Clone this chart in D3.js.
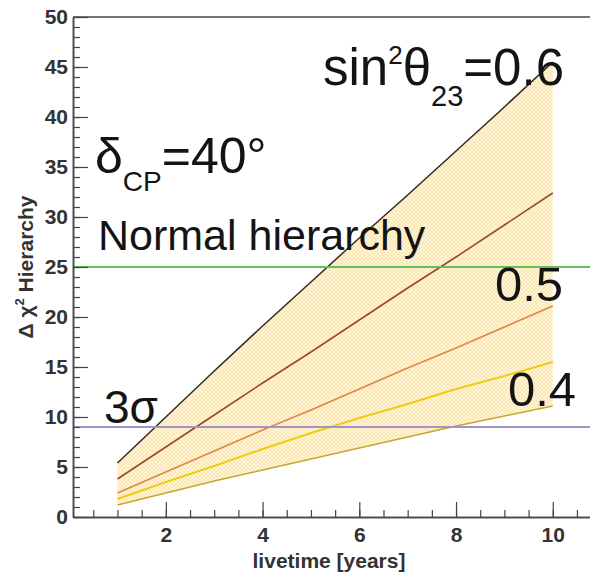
<!DOCTYPE html>
<html>
<head>
<meta charset="utf-8">
<script src="https://cdn.jsdelivr.net/npm/d3@7"></script>
<style>
  body { margin: 0; background: #fff; }
  text { font-family: "Liberation Sans", Arial, sans-serif; }
</style>
</head>
<body>
<div id="chart"></div>
<script>
// livetime in years and Delta chi^2 for each curve
const years = [1, 2, 3, 4, 5, 6, 7, 8, 9, 10];
const chi2Top = [5.4, 10.0, 14.6, 19.1, 23.5, 27.9, 32.2, 36.6, 41.0, 45.5];
const chi2Second = [3.8, 7.0, 10.2, 13.4, 16.5, 19.7, 22.9, 26.0, 29.2, 32.4];
const chi2Third = [2.4, 4.5, 6.6, 8.7, 10.7, 12.8, 14.9, 16.9, 19.0, 21.1];
const chi2Fourth = [1.8, 3.5, 5.1, 6.8, 8.4, 9.9, 11.3, 12.8, 14.1, 15.5];
const chi2Bottom = [1.2, 2.4, 3.6, 4.7, 5.8, 6.9, 8.0, 9.1, 10.1, 11.1];
const curveColors = ["#33291f", "#964a22", "#d98a45", "#f0cc14", "#c8a630"];

const xMajorTicks = [2, 4, 6, 8, 10];
const yMajorTicks = [0, 5, 10, 15, 20, 25, 30, 35, 40, 45, 50];
const nhLevel = 25;      // green line
const sigma3Level = 9;   // purple line

const width = 590, height = 573;
const margin = {top: 17, right: 0, bottom: 56, left: 73};

const svg = d3.select("#chart").append("svg")
    .attr("width", width)
    .attr("height", height);

const x = d3.scaleLinear()
    .domain([0.08, 10.77])
    .range([margin.left, width - margin.right]);
const y = d3.scaleLinear()
    .domain([0, 50])
    .range([height - margin.bottom, margin.top]);

// cross hatch pattern for the band
const defs = svg.append("defs");
const pat = defs.append("pattern")
    .attr("id", "hatch")
    .attr("patternUnits", "userSpaceOnUse")
    .attr("width", 4).attr("height", 4);
pat.append("rect").attr("width", 4).attr("height", 4).attr("fill", "#fff5d6");
pat.append("path").attr("d", "M0,0 L4,4 M4,0 L0,4")
    .attr("stroke", "#f6d690").attr("stroke-width", 0.6).attr("opacity", 0.8);

// band between highest and lowest curve
const bandData = years.map((d, i) => ({t: d, lo: chi2Bottom[i], hi: chi2Top[i]}));
svg.append("path")
    .datum(bandData)
    .attr("fill", "url(#hatch)")
    .attr("d", d3.area().x(d => x(d.t)).y0(d => y(d.lo)).y1(d => y(d.hi)));

// curves
const curves = [chi2Top, chi2Second, chi2Third, chi2Fourth, chi2Bottom];
const line = d3.line().x((d, i) => x(years[i])).y(d => y(d));
curves.forEach((c, i) => {
    svg.append("path")
        .datum(c)
        .attr("fill", "none")
        .attr("stroke", curveColors[i])
        .attr("stroke-width", i == 3 ? 2 : 1.5)
        .attr("d", line);
});

// horizontal reference lines
svg.append("line")
    .attr("x1", x.range()[0]).attr("x2", x.range()[1])
    .attr("y1", y(nhLevel)).attr("y2", y(nhLevel))
    .attr("stroke", "#62c05c").attr("stroke-width", 2);
svg.append("line")
    .attr("x1", x.range()[0]).attr("x2", x.range()[1])
    .attr("y1", y(sigma3Level)).attr("y2", y(sigma3Level))
    .attr("stroke", "#a096c6").attr("stroke-width", 2);

// axes
const axisColor = "#444";
svg.append("g")
    .attr("transform", `translate(${margin.left},0)`)
    .call(d3.axisLeft(y).tickValues(yMajorTicks).tickSize(-15).tickSizeOuter(0).tickPadding(5));
svg.append("g")
    .attr("transform", `translate(${margin.left},0)`)
    .call(d3.axisLeft(y).tickValues(d3.range(0, 51, 1)).tickSize(-7).tickSizeOuter(0).tickFormat(""));

svg.append("g")
    .attr("transform", `translate(0,${height - margin.bottom})`)
    .call(d3.axisBottom(x).tickValues(xMajorTicks).tickSize(-15).tickSizeOuter(0).tickPadding(10));
svg.append("g")
    .attr("transform", `translate(0,${height - margin.bottom})`)
    .call(d3.axisBottom(x).tickValues(d3.range(0.5, 10.6, 0.5)).tickSize(-7).tickSizeOuter(0).tickFormat(""));

svg.selectAll(".domain").attr("stroke", axisColor).attr("stroke-width", 1.5);
svg.selectAll(".tick line").attr("stroke", axisColor).attr("stroke-width", 1.2);
svg.selectAll(".tick text")
    .attr("font-family", "Liberation Sans, Arial, sans-serif")
    .attr("font-size", 21)
    .attr("font-weight", "bold")
    .attr("fill", "#333");

// top frame
svg.append("line")
    .attr("x1", margin.left).attr("x2", width)
    .attr("y1", margin.top).attr("y2", margin.top)
    .attr("stroke", axisColor).attr("stroke-width", 1.5);

// axis titles
svg.append("text")
    .attr("x", 329).attr("y", 568)
    .attr("text-anchor", "middle")
    .attr("font-size", 21).attr("font-weight", "bold").attr("fill", "#333")
    .text("livetime [years]");

const yt = svg.append("text")
    .attr("transform", "translate(33,267) rotate(-90)")
    .attr("text-anchor", "middle")
    .attr("font-size", 21).attr("font-weight", "bold").attr("fill", "#333");
yt.append("tspan").text("\u0394 \u03c7");
yt.append("tspan").attr("font-size", 13).attr("dy", -9).text("2");
yt.append("tspan").attr("dy", 9).text(" Hierarchy");

// annotations
const ink = "#141414";
const t1 = svg.append("text").attr("x", 323).attr("y", 85).attr("fill", ink).attr("font-size", 51);
t1.append("tspan").text("sin");
t1.append("tspan").attr("font-size", 26).attr("dy", -21).text("2");
t1.append("tspan").attr("dy", 21).text("\u03b8");
t1.append("tspan").attr("font-size", 29).attr("dy", 21).text("23");
t1.append("tspan").attr("dy", -21).text("=0.6");

const t2 = svg.append("text").attr("x", 95).attr("y", 173).attr("fill", ink).attr("font-size", 50);
t2.append("tspan").text("\u03b4");
t2.append("tspan").attr("font-size", 28).attr("dy", 18).text("CP");
t2.append("tspan").attr("dy", -18).text("=40\u00b0");

svg.append("text").attr("x", 98).attr("y", 250).attr("fill", ink)
    .attr("font-size", 43).text("Normal hierarchy");
svg.append("text").attr("x", 495).attr("y", 301).attr("fill", ink)
    .attr("font-size", 49).text("0.5");
svg.append("text").attr("x", 508).attr("y", 406).attr("fill", ink)
    .attr("font-size", 49).text("0.4");
svg.append("text").attr("x", 104).attr("y", 423).attr("fill", ink)
    .attr("font-size", 46).text("3\u03c3");
</script>
</body>
</html>
